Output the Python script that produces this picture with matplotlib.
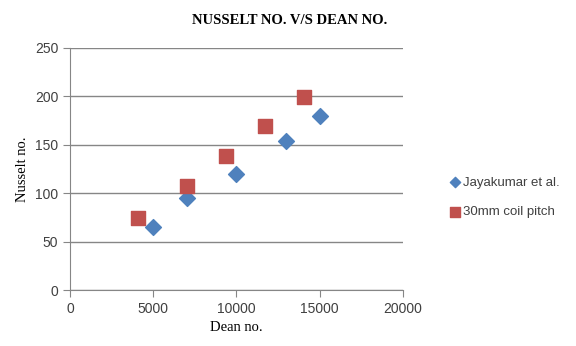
import matplotlib
matplotlib.use("Agg")
import matplotlib.pyplot as plt

# data
dean_jaya = [5000, 7000, 10000, 13000, 15000]
nu_jaya = [65, 95, 120, 154, 180]
dean_coil = [4100, 7000, 9350, 11700, 14050]
nu_coil = [74, 107, 138, 169, 199]

x_ticks = [0, 5000, 10000, 15000, 20000]
y_ticks = [0, 50, 100, 150, 200, 250]

fig = plt.figure(figsize=(5.76, 3.46), dpi=100)
ax = fig.add_axes([0.1215, 0.1618, 0.578, 0.6995])

ax.scatter(dean_jaya, nu_jaya, marker='D', s=65, color='#4F81BD',
           label='Jayakumar et al.', zorder=3)
ax.scatter(dean_coil, nu_coil, marker='s', s=110, color='#C0504D',
           label='30mm coil pitch', zorder=3)

ax.set_xlim(0, 20000)
ax.set_ylim(0, 250)
ax.set_xticks(x_ticks)
ax.set_yticks(y_ticks)
ax.grid(axis='y', color='#868686', linewidth=1)
ax.set_axisbelow(True)
for s in ['top', 'right']:
    ax.spines[s].set_visible(False)
for s in ['left', 'bottom']:
    ax.spines[s].set_color('#868686')
ax.tick_params(colors='#868686', length=5, labelcolor='#404040',
               labelsize=10)
for lab in ax.get_xticklabels() + ax.get_yticklabels():
    lab.set_family('Liberation Sans')

ax.set_xlabel('Dean no.', family='Liberation Serif', fontsize=10.5)
ax.set_ylabel('Nusselt no.', family='Liberation Serif', fontsize=10.5)
fig.suptitle('NUSSELT NO. V/S DEAN NO.', x=0.503, y=0.96,
             family='Liberation Serif', fontweight='bold', fontsize=10.5)

leg = fig.legend(loc='center left', bbox_to_anchor=(0.77, 0.43),
                 frameon=False, handletextpad=0.2, labelspacing=1.3,
                 handlelength=0.8, borderpad=0,
                 prop={'family': 'Liberation Sans', 'size': 9.5},
                 markerscale=0.65, scatterpoints=1)
for t in leg.get_texts():
    t.set_color('#404040')

fig.savefig('out.png', dpi=100)
